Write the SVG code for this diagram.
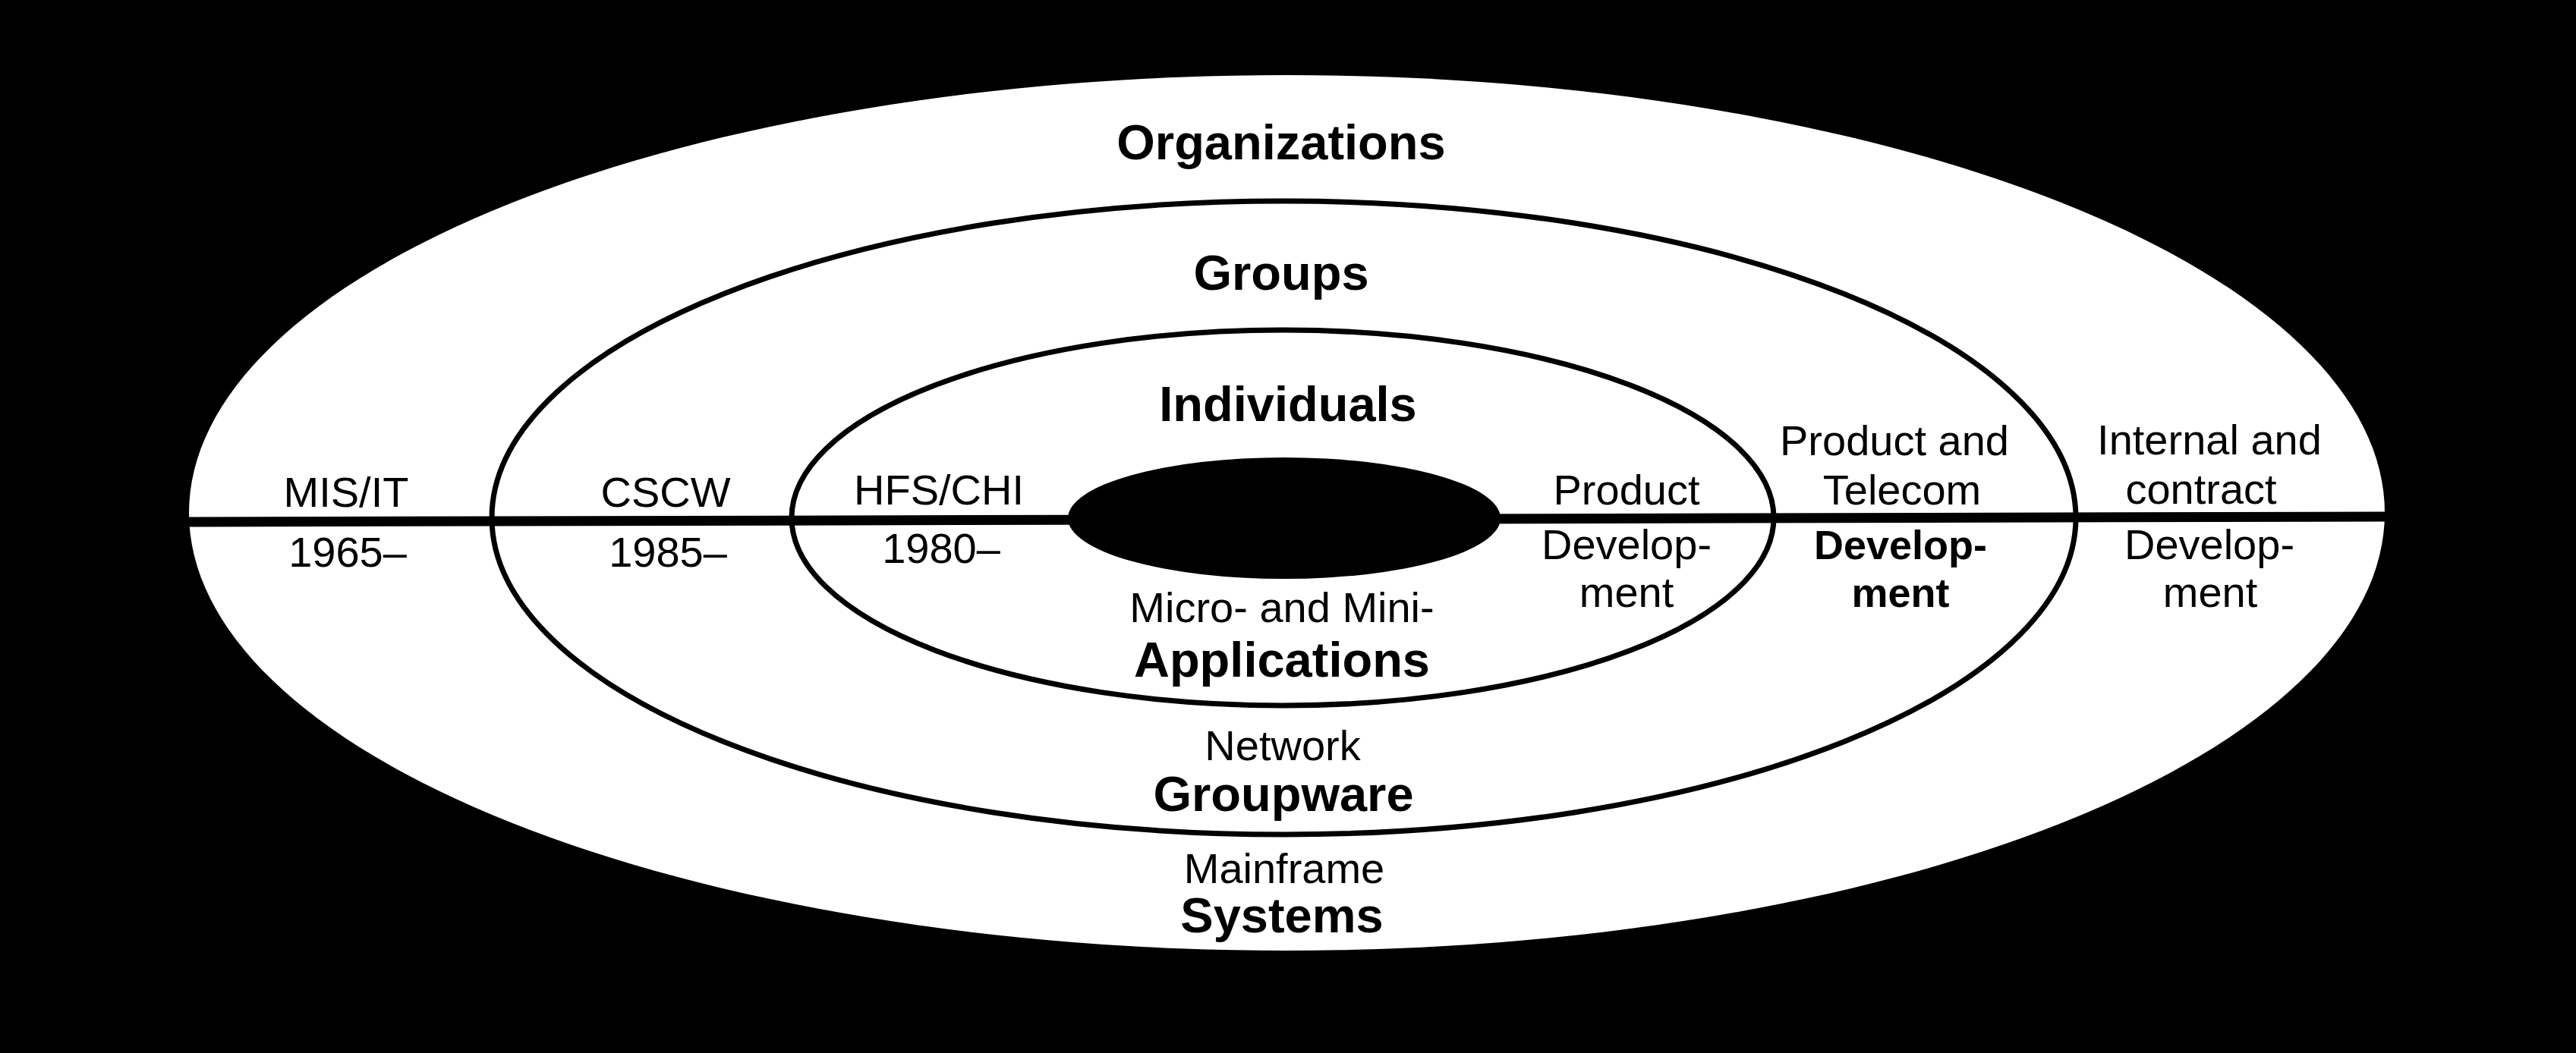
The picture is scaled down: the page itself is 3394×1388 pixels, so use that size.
<svg xmlns="http://www.w3.org/2000/svg" width="3394" height="1388" viewBox="0 0 3394 1388">
<style>
.ring{fill:none;stroke:#000;stroke-width:7}
.r{font-family:"Liberation Sans",Arial,Helvetica,sans-serif;font-size:56px;fill:#000;text-anchor:middle}
.b{font-family:"Liberation Sans",Arial,Helvetica,sans-serif;font-size:65px;font-weight:bold;fill:#000;text-anchor:middle}
.bs{font-family:"Liberation Sans",Arial,Helvetica,sans-serif;font-size:54px;font-weight:bold;fill:#000;text-anchor:middle}
</style>
<rect x="0" y="0" width="3394" height="1388" fill="#000"/>
<g id="organizations">
<ellipse cx="1695.5" cy="676" rx="1446.5" ry="577" fill="#fff"/>
<text class="b" x="1688" y="210">Organizations</text>
<text class="r" x="456" y="668">MIS/IT</text>
<text class="r" x="458" y="747">1965–</text>
<text class="r" x="2911" y="599">Internal and</text>
<text class="r" x="2900" y="664">contract</text>
<text class="r" x="2911" y="737">Develop-</text>
<text class="r" x="2912" y="800">ment</text>
<text class="r" x="1692" y="1164">Mainframe</text>
<text class="b" x="1689" y="1229">Systems</text>
</g>
<g id="groups">
<ellipse class="ring" cx="1691.5" cy="682.5" rx="1043.5" ry="417.5"/>
<text class="b" x="1688" y="382">Groups</text>
<text class="r" x="877" y="668">CSCW</text>
<text class="r" x="880" y="747">1985–</text>
<text class="r" x="2496" y="600">Product and</text>
<text class="r" x="2506" y="665">Telecom</text>
<text class="bs" x="2504" y="737">Develop-</text>
<text class="bs" x="2504" y="800">ment</text>
<text class="r" x="1690" y="1002">Network</text>
<text class="b" x="1691" y="1069">Groupware</text>
</g>
<g id="individuals">
<ellipse class="ring" cx="1690" cy="682.5" rx="647" ry="247.5"/>
<text class="b" x="1697" y="555">Individuals</text>
<text class="r" x="1237" y="665">HFS/CHI</text>
<text class="r" x="1240" y="742">1980–</text>
<text class="r" x="2143" y="665">Product</text>
<text class="r" x="2143" y="737">Develop-</text>
<text class="r" x="2143" y="800">ment</text>
<text class="r" x="1689" y="820">Micro- and Mini-</text>
<text class="b" x="1689" y="892">Applications</text>
</g>
<g id="connectors">
<line x1="249" y1="688" x2="3142" y2="681" stroke="#000" stroke-width="13"/>
</g>
<g id="core">
<ellipse cx="1692" cy="683" rx="285" ry="80" fill="#000"/>
</g>
</svg>
